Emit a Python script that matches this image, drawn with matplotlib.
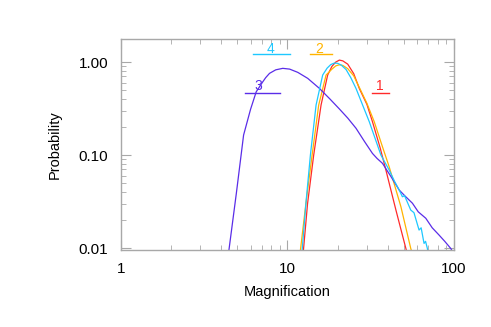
import numpy as np
import matplotlib
matplotlib.use('Agg')
import matplotlib.pyplot as plt
from matplotlib.ticker import LogLocator, FixedLocator, NullFormatter

plt.rcParams['font.family'] = ['Liberation Sans', 'DejaVu Sans']

# curve 1 (red)
x1 = [12.2, 12.47, 13.2, 14.37, 15.91, 17.43, 18.5, 19.5, 20.5, 21.5, 23.0, 25.0, 27.0, 30.0,
      32.4, 36.0, 39.0, 44.8, 51.4, 53.0]
y1 = [0.008, 0.0095, 0.03, 0.1, 0.345, 0.725, 0.9, 1.0, 1.05, 1.03, 0.95, 0.75, 0.52, 0.35,
      0.228, 0.12, 0.069, 0.0256, 0.0099, 0.008]
# curve 2 (orange)
x2 = [11.7, 11.96, 12.9, 14.06, 15.4, 17.05, 18.5, 19.5, 20.5, 21.5, 23.0, 25.0, 27.2, 30.0,
      33.2, 36.8, 40.8, 48.0, 55.0, 57.0]
y2 = [0.008, 0.0095, 0.03, 0.1, 0.345, 0.725, 0.84, 0.91, 0.935, 0.92, 0.85, 0.71, 0.52, 0.36,
      0.228, 0.13, 0.0749, 0.0278, 0.0099, 0.008]
# curve 3 (purple)
x3 = [4.35, 4.45, 4.93, 5.45, 6.0, 6.49, 7.11, 7.4, 7.8, 8.5, 9.37, 10.3, 11.53, 13.23, 15.55,
      18.0, 20.5, 23.0, 25.8, 29.0, 32.4, 34.5, 37.2, 42.0, 46.9, 51.0, 56.3, 61.0, 67.7, 74.0,
      81.3, 88.0, 95.6, 98.0]
y3 = [0.008, 0.0095, 0.0387, 0.164, 0.31, 0.479, 0.614, 0.68, 0.756, 0.825, 0.856, 0.84, 0.775,
      0.668, 0.521, 0.4, 0.313, 0.25, 0.194, 0.14, 0.104, 0.092, 0.0814, 0.058, 0.042, 0.036,
      0.0303, 0.0245, 0.0209, 0.0165, 0.0138, 0.0118, 0.0099, 0.0092]
# curve 4 (cyan)
x4 = [12.0, 12.25, 12.9, 13.73, 14.85, 16.27, 17.3, 18.2, 19.1, 20.0, 21.0, 22.5, 24.0, 25.8,
      28.0, 31.0, 36.4, 40.8, 44.0, 46.9, 49.0, 50.5, 55.0, 57.5, 61.7, 63.5, 66.1, 67.5, 69.2,
      70.5]
y4 = [0.008, 0.0095, 0.03, 0.1, 0.345, 0.725, 0.86, 0.94, 0.975, 0.97, 0.93, 0.83, 0.68, 0.52,
      0.36, 0.228, 0.1, 0.069, 0.052, 0.042, 0.0356, 0.0365, 0.0256, 0.024, 0.0156, 0.0165,
      0.0112, 0.0118, 0.0099, 0.008]

colors = ['#ff2a2a', '#ffb400', '#5a2de8', '#1ec8ff']
labels = ['1', '2', '3', '4']
# label text baseline position, underline start/end (data coords)
label_pos = [(36.0, 0.50), (15.6, 1.259), (6.7, 0.50), (7.9, 1.259)]
line_x = [(32.3, 40.8), (13.7, 18.6), (5.53, 8.96), (6.17, 10.3)]
line_y = [0.468, 1.21, 0.468, 1.21]

fig = plt.figure(figsize=(4.91, 3.27), dpi=100)
ax = fig.add_axes([0.2464, 0.2355, 0.6782, 0.6452])

for xs, ys, c in zip([x1, x2, x3, x4], [y1, y2, y3, y4], colors):
    ax.plot(xs, ys, color=c, lw=0.9)

for lab, (tx, ty), (lx0, lx1), ly, c in zip(labels, label_pos, line_x, line_y, colors):
    ax.text(tx, ty, lab, color=c, fontsize=10, ha='center', va='baseline')
    ax.plot([lx0, lx1], [ly, ly], color=c, lw=1.0)

ax.set_xscale('log')
ax.set_yscale('log')
ax.set_xlim(1, 100)
ax.set_ylim(0.00952, 1.77)

ax.xaxis.set_major_locator(FixedLocator([1, 10, 100]))
ax.set_xticklabels(['1', '10', '100'])
ax.yaxis.set_major_locator(FixedLocator([0.01, 0.1, 1.0]))
ax.set_yticklabels(['0.01', '0.10', '1.00'])
ax.xaxis.set_minor_locator(LogLocator(base=10, subs=np.arange(2, 10)))
ax.yaxis.set_minor_locator(LogLocator(base=10, subs=np.arange(2, 10)))
ax.xaxis.set_minor_formatter(NullFormatter())
ax.yaxis.set_minor_formatter(NullFormatter())

for sp in ax.spines.values():
    sp.set_color('#a8a8a8')
    sp.set_linewidth(1.0)
ax.tick_params(which='both', direction='in', top=True, right=True, color='#a8a8a8',
               labelsize=11, pad=9)
ax.tick_params(which='major', length=7)
ax.tick_params(which='minor', length=3.5)

ax.set_xlabel('Magnification', fontsize=10.5, labelpad=6)
ax.set_ylabel('Probability', fontsize=10.5, labelpad=12)

fig.savefig('out.png', dpi=100)
